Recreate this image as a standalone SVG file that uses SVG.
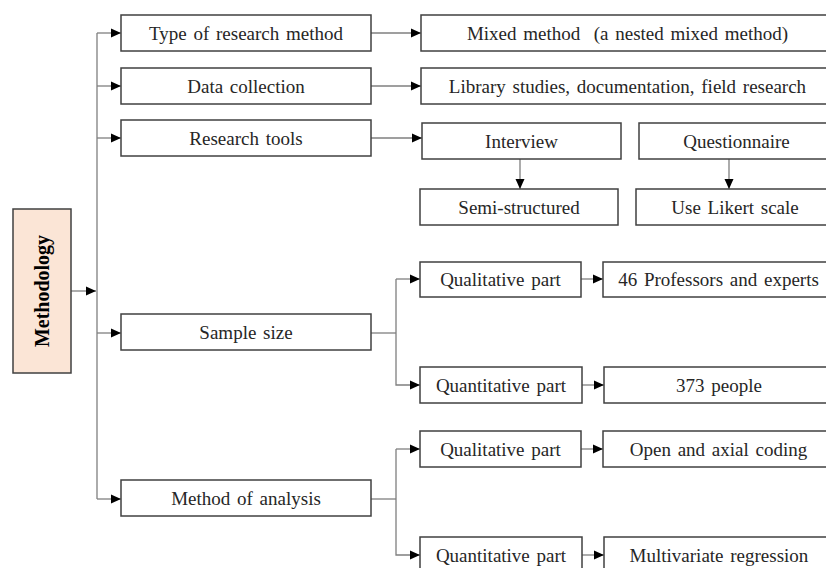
<svg xmlns="http://www.w3.org/2000/svg" width="826" height="568" viewBox="0 0 826 568">
<defs>
<marker id="ah" markerUnits="userSpaceOnUse" markerWidth="10" markerHeight="10" viewBox="0 0 10 10" refX="10" refY="5" orient="auto">
<path d="M0,0.5 L10,5 L0,9.5 Z" fill="#000"/>
</marker>
<style>
.box{fill:#fff;stroke:#404040;stroke-width:1.5}
.root{fill:#fbe5d6;stroke:#404040;stroke-width:1.5}
.t{font-family:"Liberation Serif","Times New Roman",serif;font-size:19px;fill:#262626;text-anchor:middle;word-spacing:2px}
.tb{font-family:"Liberation Serif","Times New Roman",serif;font-size:20px;font-weight:bold;fill:#000;text-anchor:middle}
.c{fill:none;stroke:#7f7f7f;stroke-width:1.3}
.a{fill:none;stroke:#7f7f7f;stroke-width:1.3;marker-end:url(#ah)}
</style>
</defs>
<rect width="826" height="568" fill="#fff"/>
<g id="connectors">
<path class="c" d="M97,33 V499"/>
<path class="a" d="M71,291 H96"/>
<path class="a" d="M97,33 H121"/>
<path class="a" d="M97,86 H121"/>
<path class="a" d="M97,138 H121"/>
<path class="a" d="M97,333 H121"/>
<path class="a" d="M97,499 H121"/>
<path class="a" d="M371,33 H421"/>
<path class="a" d="M371,86 H421"/>
<path class="a" d="M371,138 H422"/>
<path class="a" d="M520,159 V189"/>
<path class="a" d="M729,159 V189"/>
<path class="c" d="M371,333 H396"/>
<path class="a" d="M396,279 V385 H420"/>
<path class="a" d="M396,279 H420"/>
<path class="a" d="M581,279 H603"/>
<path class="a" d="M582,385 H604"/>
<path class="c" d="M371,499 H396"/>
<path class="a" d="M396,449 V555 H420"/>
<path class="a" d="M396,449 H420"/>
<path class="a" d="M581,449 H603"/>
<path class="a" d="M582,555 H604"/>
</g>
<g id="methodology">
<rect class="root" x="13" y="209" width="58" height="164"/>
<text class="tb" transform="translate(49,291) rotate(-90)">Methodology</text>
</g>
<g id="type-of-research-method">
<rect class="box" x="121" y="15" width="250" height="36"/>
<text class="t" x="246" y="40">Type of research method</text>
</g>
<g id="data-collection">
<rect class="box" x="121" y="68" width="250" height="36"/>
<text class="t" x="246" y="93">Data collection</text>
</g>
<g id="research-tools">
<rect class="box" x="121" y="120" width="250" height="36"/>
<text class="t" x="246" y="145">Research tools</text>
</g>
<g id="sample-size">
<rect class="box" x="121" y="314" width="250" height="36"/>
<text class="t" x="246" y="339">Sample size</text>
</g>
<g id="method-of-analysis">
<rect class="box" x="121" y="480" width="250" height="36"/>
<text class="t" x="246" y="505">Method of analysis</text>
</g>
<g id="mixed-method">
<rect class="box" x="421" y="15" width="413" height="36"/>
<text class="t" x="627.5" y="40" xml:space="preserve">Mixed method  (a nested mixed method)</text>
</g>
<g id="library-studies">
<rect class="box" x="421" y="68" width="413" height="36"/>
<text class="t" x="627.5" y="93">Library studies, documentation, field research</text>
</g>
<g id="interview">
<rect class="box" x="422" y="123" width="199" height="36"/>
<text class="t" x="521.5" y="148">Interview</text>
</g>
<g id="questionnaire">
<rect class="box" x="639" y="123" width="195" height="36"/>
<text class="t" x="736.5" y="148">Questionnaire</text>
</g>
<g id="semi-structured">
<rect class="box" x="420" y="189" width="198" height="36"/>
<text class="t" x="519" y="214">Semi-structured</text>
</g>
<g id="likert">
<rect class="box" x="636" y="189" width="198" height="36"/>
<text class="t" x="735" y="214">Use Likert scale</text>
</g>
<g id="qual-sample">
<rect class="box" x="420" y="262" width="161" height="35"/>
<text class="t" x="500.5" y="286">Qualitative part</text>
</g>
<g id="professors">
<rect class="box" x="603" y="262" width="231" height="35"/>
<text class="t" x="718.5" y="286">46 Professors and experts</text>
</g>
<g id="quant-sample">
<rect class="box" x="420" y="367" width="162" height="36"/>
<text class="t" x="501" y="392">Quantitative part</text>
</g>
<g id="people">
<rect class="box" x="604" y="367" width="230" height="36"/>
<text class="t" x="719" y="392">373 people</text>
</g>
<g id="qual-analysis">
<rect class="box" x="420" y="431" width="161" height="36"/>
<text class="t" x="500.5" y="456">Qualitative part</text>
</g>
<g id="coding">
<rect class="box" x="603" y="431" width="231" height="36"/>
<text class="t" x="718.5" y="456">Open and axial coding</text>
</g>
<g id="quant-analysis">
<rect class="box" x="420" y="537" width="162" height="36"/>
<text class="t" x="501" y="562">Quantitative part</text>
</g>
<g id="regression">
<rect class="box" x="604" y="537" width="230" height="36"/>
<text class="t" x="719" y="562">Multivariate regression</text>
</g>
</svg>
